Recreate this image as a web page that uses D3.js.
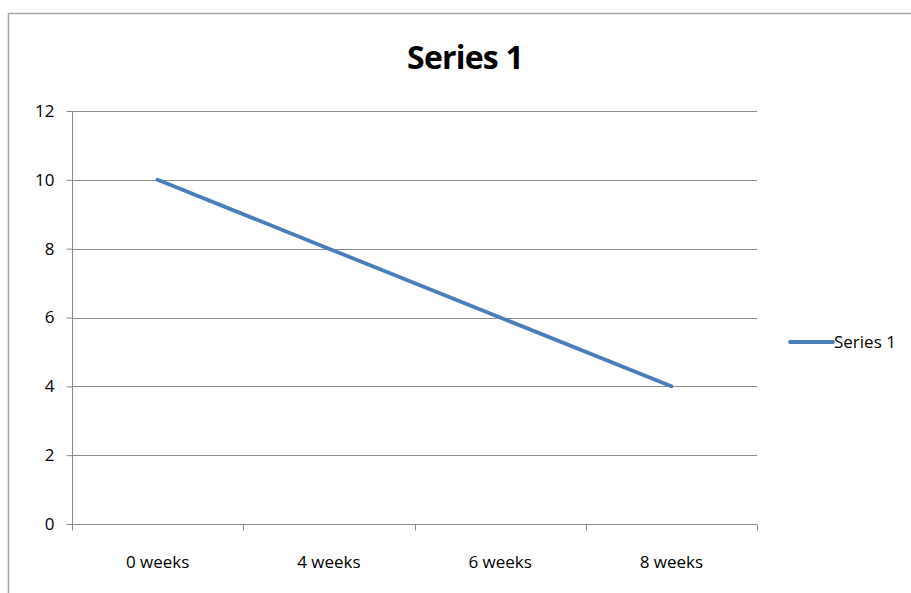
<!DOCTYPE html>
<html><head><meta charset="utf-8">
<script src="https://cdn.jsdelivr.net/npm/d3@7"></script>
<style>body{margin:0;background:#fff}svg{display:block}</style>
</head><body>
<script>
const categories = ["0 weeks", "4 weeks", "6 weeks", "8 weeks"];
const values = [10, 8, 6, 4];
const yTicks = [0, 2, 4, 6, 8, 10, 12];
const seriesName = "Series 1";

const W = 911, H = 593;
const font = "'Open Sans', 'Liberation Sans', sans-serif";
const svg = d3.select("body").append("svg").attr("width", W).attr("height", H);

// chart border
svg.append("rect").attr("x", 8.5).attr("y", 13.5).attr("width", 1000).attr("height", 1000)
  .attr("fill", "none").attr("stroke", "#a6a6a6").attr("stroke-width", 1.5);

const L = 72, R = 757, T = 111, B = 524;
const x = d3.scaleBand().domain(categories).range([L, R]);
const y = d3.scaleLinear().domain([0, 12]).range([B, T]);

// gridlines
svg.append("g").selectAll("line").data(yTicks.filter(d => d > 0)).join("line")
  .attr("x1", L).attr("x2", R).attr("y1", d => Math.round(y(d)) + 0.5).attr("y2", d => Math.round(y(d)) + 0.5)
  .attr("stroke", "#8a8a8a").attr("stroke-width", 1);

// y axis
const ya = svg.append("g").attr("transform", `translate(${L + 0.5},0)`)
  .call(d3.axisLeft(y).tickValues(yTicks).tickSize(6).tickPadding(12).tickFormat(d3.format("d")));
ya.selectAll("path,line").attr("stroke", "#8a8a8a");
ya.select("path").attr("d", `M0,${T}V${B}`);
ya.selectAll("text").attr("font-family", font).attr("font-size", 17).attr("fill", "#000");

// x axis
const xa = svg.append("g").attr("transform", `translate(0,${Math.round(B) + 0.5})`)
  .call(d3.axisBottom(x).tickSize(0).tickPadding(31));
xa.select("path").attr("stroke", "#8a8a8a").attr("d", `M${L},0H${R}`);
xa.selectAll("text").attr("font-family", font).attr("font-size", 17).attr("fill", "#000");
const edges = categories.map(c => x(c)).concat([R]);
xa.selectAll(".edge").data(edges).join("line").attr("class", "edge")
  .attr("x1", d => Math.round(d) + 0.5).attr("x2", d => Math.round(d) + 0.5).attr("y1", 0).attr("y2", 6)
  .attr("stroke", "#8a8a8a");

// line
const line = d3.line().x((d, i) => x(categories[i]) + x.bandwidth() / 2).y(d => y(d));
svg.append("path").datum(values).attr("d", line).attr("fill", "none")
  .attr("stroke", "#4a7ebb").attr("stroke-width", 3.8).attr("stroke-linecap", "round");

// title
svg.append("text").attr("x", 465).attr("y", 69).attr("text-anchor", "middle")
  .attr("font-family", font).attr("font-weight", "bold").attr("font-size", 32).attr("fill", "#000")
  .attr("letter-spacing", -0.8).text(seriesName);

// legend
svg.append("line").attr("x1", 790).attr("x2", 833).attr("y1", 342).attr("y2", 342)
  .attr("stroke", "#4a7ebb").attr("stroke-width", 3.8).attr("stroke-linecap", "round");
svg.append("text").attr("x", 834).attr("y", 348).attr("font-family", font).attr("font-size", 17)
  .attr("fill", "#000").text(seriesName);
</script>
</body></html>
